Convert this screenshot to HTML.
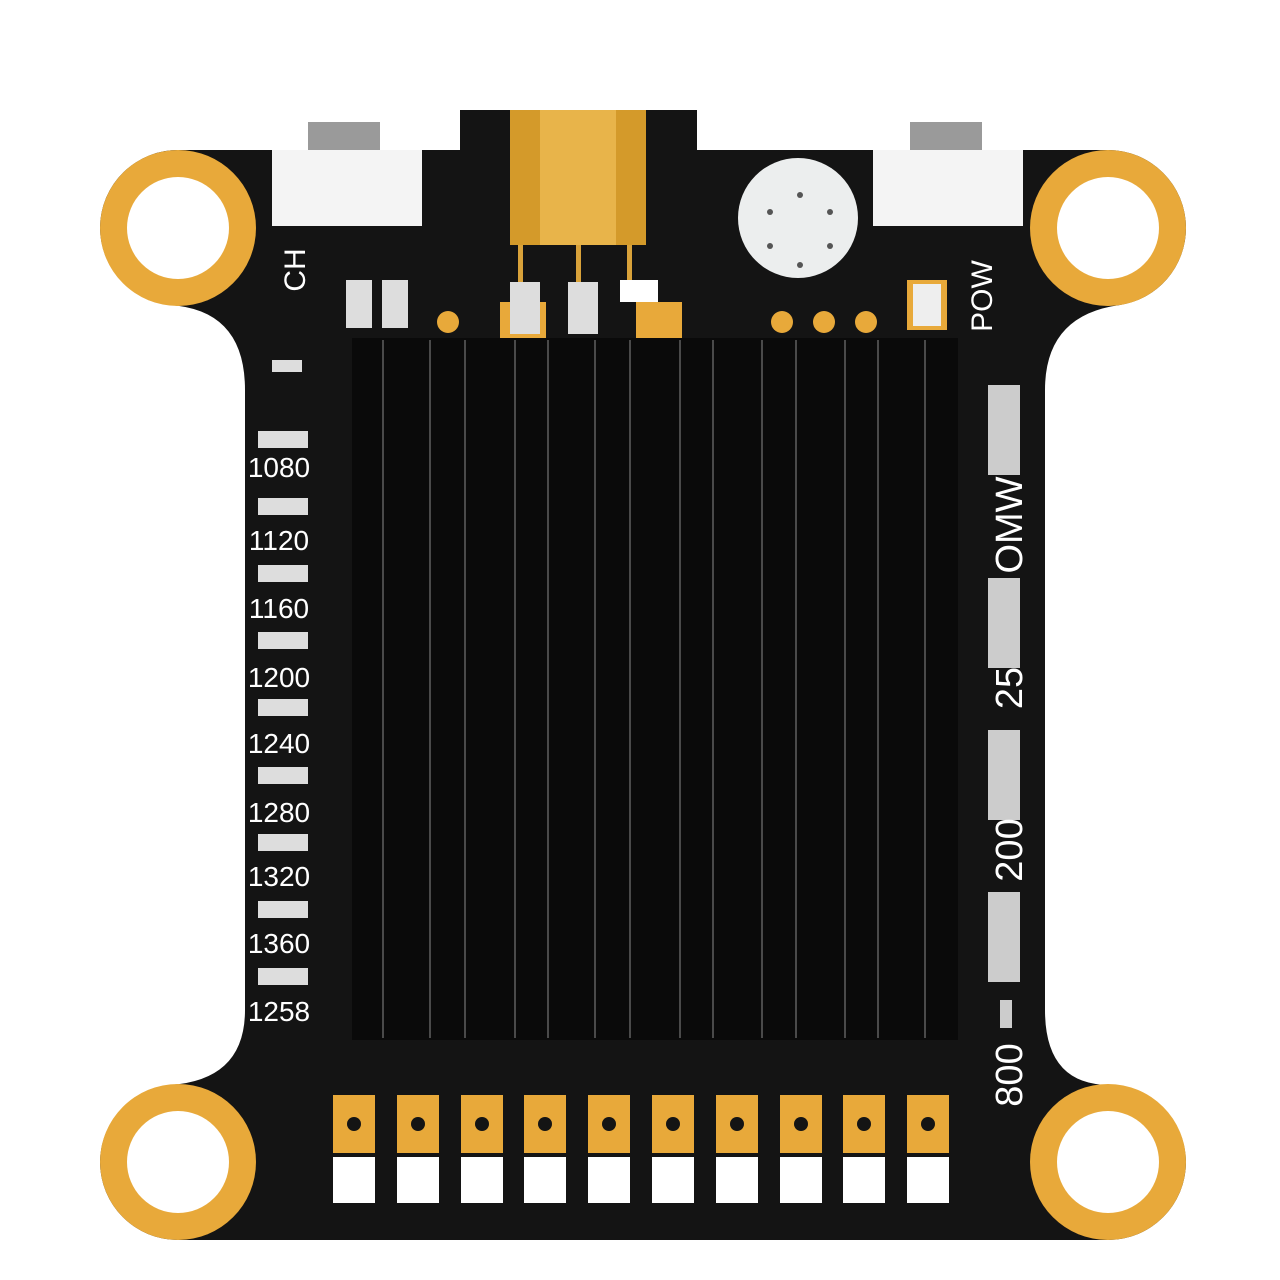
<!DOCTYPE html>
<html><head><meta charset="utf-8"><style>
html,body{margin:0;padding:0;background:#fff;width:1280px;height:1280px;overflow:hidden}
svg{display:block}
text{font-family:"Liberation Sans",sans-serif;fill:#fff}
</style></head><body>
<svg width="1280" height="1280" viewBox="0 0 1280 1280" xmlns="http://www.w3.org/2000/svg">
<rect width="1280" height="1280" fill="#fff"/>
<path d="M180 150 L460 150 L460 110 L697 110 L697 150 L1108 150 A78 78 0 0 1 1186 228 A78 78 0 0 1 1120 305 Q1045 315 1045 390 L1045 1010 Q1045 1085 1110 1085 A78 78 0 0 1 1186 1162 A78 78 0 0 1 1108 1240 L178 1240 A78 78 0 0 1 100 1162 A78 78 0 0 1 170 1085 Q245 1080 245 1010 L245 390 Q245 310 170 305 A78 78 0 0 1 100 228 A78 78 0 0 1 180 150 Z" fill="#141414"/>
<g fill="#e8a93a">
<circle cx="178" cy="228" r="78"/><circle cx="1108" cy="228" r="78"/>
<circle cx="178" cy="1162" r="78"/><circle cx="1108" cy="1162" r="78"/>
</g>
<g fill="#fff">
<circle cx="178" cy="228" r="51"/><circle cx="1108" cy="228" r="51"/>
<circle cx="178" cy="1162" r="51"/><circle cx="1108" cy="1162" r="51"/>
</g>
<!-- connectors -->
<rect x="308" y="122" width="72" height="30" fill="#9a9a9a"/>
<rect x="272" y="150" width="150" height="76" fill="#f4f4f4"/>
<rect x="910" y="122" width="72" height="30" fill="#9a9a9a"/>
<rect x="873" y="150" width="150" height="76" fill="#f4f4f4"/>
<!-- SMA -->
<rect x="510" y="110" width="136" height="135" fill="#d49a2a"/>
<rect x="540" y="110" width="76" height="135" fill="#e8b44a"/>
<rect x="518" y="245" width="5" height="40" fill="#d9a23a"/>
<rect x="576" y="245" width="5" height="40" fill="#d9a23a"/>
<rect x="627" y="245" width="5" height="40" fill="#d9a23a"/>
<rect x="620" y="280" width="38" height="22" fill="#fff"/>
<rect x="500" y="302" width="46" height="36" fill="#e8a93a"/>
<rect x="636" y="302" width="46" height="36" fill="#e8a93a"/>
<rect x="510" y="282" width="30" height="52" fill="#ddd"/>
<rect x="568" y="282" width="30" height="52" fill="#ddd"/>
<!-- speaker -->
<circle cx="798" cy="218" r="60" fill="#eceeee"/>
<g fill="#555"><circle cx="800" cy="195" r="3"/><circle cx="770" cy="212" r="3"/><circle cx="830" cy="212" r="3"/><circle cx="770" cy="246" r="3"/><circle cx="830" cy="246" r="3"/><circle cx="800" cy="265" r="3"/></g>
<!-- small pads -->
<rect x="346" y="280" width="26" height="48" fill="#ddd"/><rect x="382" y="280" width="26" height="48" fill="#ddd"/>
<g fill="#e8a93a"><circle cx="448" cy="322" r="11"/><circle cx="782" cy="322" r="11"/><circle cx="824" cy="322" r="11"/><circle cx="866" cy="322" r="11"/></g>
<rect x="907" y="280" width="40" height="50" fill="#e8a93a"/><rect x="913" y="284" width="28" height="42" fill="#eee"/>
<rect x="272" y="360" width="30" height="12" fill="#ddd"/>
<!-- heatsink -->
<rect x="352" y="338" width="606" height="702" fill="#0a0a0a"/>
<g stroke="#4a4a4a" stroke-width="2">
<line x1="383" y1="340" x2="383" y2="1038"/><line x1="430" y1="340" x2="430" y2="1038"/><line x1="465" y1="340" x2="465" y2="1038"/>
<line x1="515" y1="340" x2="515" y2="1038"/><line x1="548" y1="340" x2="548" y2="1038"/><line x1="595" y1="340" x2="595" y2="1038"/>
<line x1="630" y1="340" x2="630" y2="1038"/><line x1="680" y1="340" x2="680" y2="1038"/><line x1="713" y1="340" x2="713" y2="1038"/>
<line x1="762" y1="340" x2="762" y2="1038"/><line x1="796" y1="340" x2="796" y2="1038"/><line x1="845" y1="340" x2="845" y2="1038"/>
<line x1="878" y1="340" x2="878" y2="1038"/><line x1="925" y1="340" x2="925" y2="1038"/>
</g>
<!-- left LEDs -->
<g fill="#ddd">
<rect x="258" y="431" width="50" height="17"/><rect x="258" y="498" width="50" height="17"/><rect x="258" y="565" width="50" height="17"/>
<rect x="258" y="632" width="50" height="17"/><rect x="258" y="699" width="50" height="17"/><rect x="258" y="767" width="50" height="17"/>
<rect x="258" y="834" width="50" height="17"/><rect x="258" y="901" width="50" height="17"/><rect x="258" y="968" width="50" height="17"/>
</g>
<g font-size="28" text-anchor="middle">
<text x="279" y="477">1080</text><text x="279" y="550">1120</text><text x="279" y="618">1160</text>
<text x="279" y="687">1200</text><text x="279" y="753">1240</text><text x="279" y="822">1280</text>
<text x="279" y="886">1320</text><text x="279" y="953">1360</text><text x="279" y="1021">1258</text>
</g>
<!-- right LEDs -->
<g fill="#ccc">
<rect x="988" y="385" width="32" height="90"/><rect x="988" y="578" width="32" height="90"/>
<rect x="988" y="730" width="32" height="90"/><rect x="988" y="892" width="32" height="90"/>
<rect x="1000" y="1000" width="12" height="28"/>
</g>
<g font-size="38" text-anchor="middle">
<text transform="translate(1022 1075) rotate(-90)">800</text>
<text transform="translate(1022 850) rotate(-90)">200</text>
<text transform="translate(1022 688) rotate(-90)">25</text>
<text transform="translate(1022 525) rotate(-90)">OMW</text>
<text font-size="30" transform="translate(305 270) rotate(-90)">CH</text>
<text font-size="30" transform="translate(992 296) rotate(-90)">POW</text>
</g>
<!-- bottom pads -->
<g>
<rect x="333" y="1095" width="42" height="58" fill="#e8a93a"/><rect x="333" y="1157" width="42" height="46" fill="#fff"/>
<rect x="397" y="1095" width="42" height="58" fill="#e8a93a"/><rect x="397" y="1157" width="42" height="46" fill="#fff"/>
<rect x="461" y="1095" width="42" height="58" fill="#e8a93a"/><rect x="461" y="1157" width="42" height="46" fill="#fff"/>
<rect x="524" y="1095" width="42" height="58" fill="#e8a93a"/><rect x="524" y="1157" width="42" height="46" fill="#fff"/>
<rect x="588" y="1095" width="42" height="58" fill="#e8a93a"/><rect x="588" y="1157" width="42" height="46" fill="#fff"/>
<rect x="652" y="1095" width="42" height="58" fill="#e8a93a"/><rect x="652" y="1157" width="42" height="46" fill="#fff"/>
<rect x="716" y="1095" width="42" height="58" fill="#e8a93a"/><rect x="716" y="1157" width="42" height="46" fill="#fff"/>
<rect x="780" y="1095" width="42" height="58" fill="#e8a93a"/><rect x="780" y="1157" width="42" height="46" fill="#fff"/>
<rect x="843" y="1095" width="42" height="58" fill="#e8a93a"/><rect x="843" y="1157" width="42" height="46" fill="#fff"/>
<rect x="907" y="1095" width="42" height="58" fill="#e8a93a"/><rect x="907" y="1157" width="42" height="46" fill="#fff"/>
</g>
<g fill="#141414">
<circle cx="354" cy="1124" r="7"/><circle cx="418" cy="1124" r="7"/><circle cx="482" cy="1124" r="7"/><circle cx="545" cy="1124" r="7"/><circle cx="609" cy="1124" r="7"/>
<circle cx="673" cy="1124" r="7"/><circle cx="737" cy="1124" r="7"/><circle cx="801" cy="1124" r="7"/><circle cx="864" cy="1124" r="7"/><circle cx="928" cy="1124" r="7"/>
</g>
</svg>
</body></html>
